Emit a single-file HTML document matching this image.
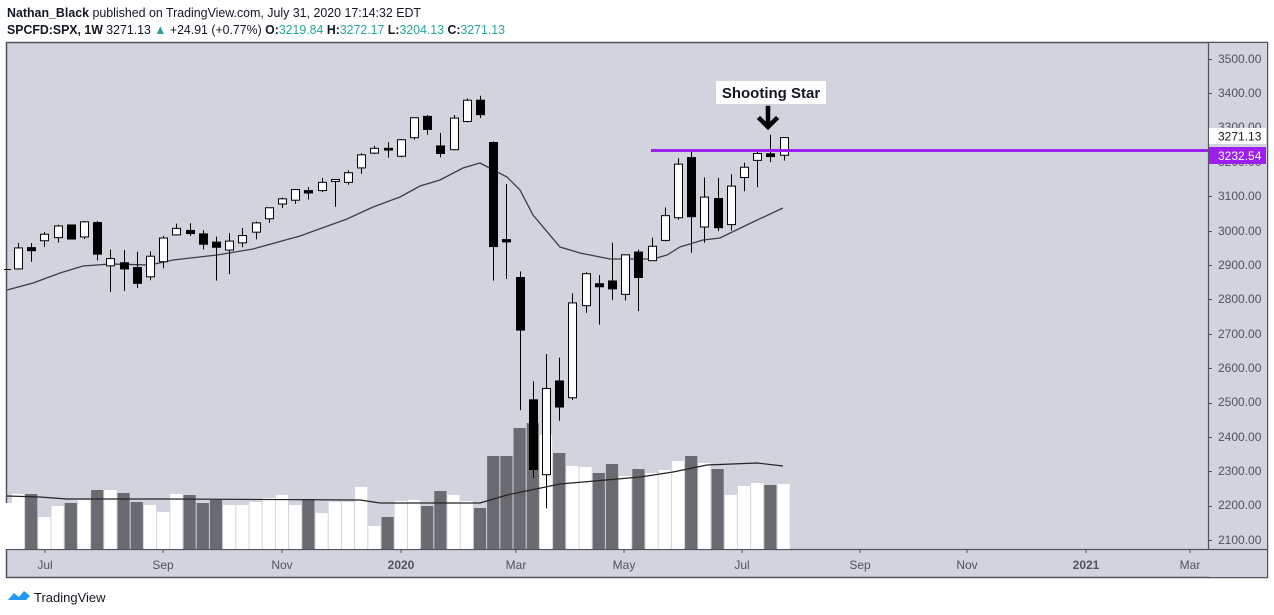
<!DOCTYPE html>
<html><head><meta charset="utf-8"><style>
html,body{margin:0;padding:0;background:#fff;width:1274px;height:615px;overflow:hidden}
svg{display:block;font-family:"Liberation Sans","DejaVu Sans",sans-serif}
</style></head><body>
<svg id="s" width="1274" height="615" viewBox="0 0 1274 615" xmlns="http://www.w3.org/2000/svg">
<text x="7" y="17" font-size="13" fill="#131722" textLength="414" lengthAdjust="spacingAndGlyphs"><tspan font-weight="bold">Nathan_Black</tspan> published on TradingView.com, July 31, 2020 17:14:32 EDT</text>
<text x="7" y="34" font-size="13" fill="#131722" textLength="498" lengthAdjust="spacingAndGlyphs"><tspan font-weight="bold">SPCFD:SPX, 1W</tspan> 3271.13 <tspan fill="#26a69a">▲</tspan> +24.91 (+0.77%) <tspan font-weight="bold">O:</tspan><tspan fill="#26a69a">3219.84</tspan> <tspan font-weight="bold">H:</tspan><tspan fill="#26a69a">3272.17</tspan> <tspan font-weight="bold">L:</tspan><tspan fill="#26a69a">3204.13</tspan> <tspan font-weight="bold">C:</tspan><tspan fill="#26a69a">3271.13</tspan></text>
<rect x="6.5" y="42.5" width="1261" height="535" fill="#d1d4dc" stroke="#50535e" stroke-width="1.5"/>
<rect x="1209" y="43" width="58" height="534" fill="#d1d4dc"/>
<line x1="1208.5" y1="42" x2="1208.5" y2="549" stroke="#50535e" stroke-width="1.2"/>
<line x1="6" y1="549.5" x2="1268" y2="549.5" stroke="#50535e" stroke-width="1.2"/>
<g id="vol"></g>
<polyline fill="none" stroke="#222" stroke-width="1.2" points="7,496 40,497 67,499 167,499 360,500 380,503 420,503 480,503 507,495 560,484 640,477 673,472 707,465 757,463 783,466"/>
<polyline fill="none" stroke="#3a3d48" stroke-width="1.3" points="7,290 33,283 60,273 83,266 110,264 150,265 173,260 217,255 253,249 300,236 347,219 373,207 400,197 420,186 440,180 463,168 480,163 507,177 520,190 533,215 560,247 580,253 610,259 653,259 667,255 680,247 703,240 720,238 753,222 783,208"/>
<g id="cdl"></g>
<line x1="651" y1="150.5" x2="1208" y2="150.5" stroke="#9c1ff0" stroke-width="3"/>
<rect x="716" y="81" width="110" height="23" fill="#fff"/>
<text x="771" y="98" font-size="15" font-weight="bold" text-anchor="middle" fill="#131722">Shooting Star</text>
<path d="M768 108 V126 M760 119 L768 127 L776 119" stroke="#000" stroke-width="4.5" fill="none" stroke-linecap="square"/>
<g font-size="12" fill="#50535e">
<g id="ticks"></g>
<text x="1218" y="63">3500.00</text><text x="1218" y="97">3400.00</text><text x="1218" y="131">3300.00</text><text x="1218" y="166">3200.00</text><text x="1218" y="200">3100.00</text><text x="1218" y="235">3000.00</text><text x="1218" y="269">2900.00</text><text x="1218" y="303">2800.00</text><text x="1218" y="338">2700.00</text><text x="1218" y="372">2600.00</text><text x="1218" y="406">2500.00</text><text x="1218" y="441">2400.00</text><text x="1218" y="475">2300.00</text><text x="1218" y="509">2200.00</text><text x="1218" y="544">2100.00</text>
</g>
<rect x="1209" y="128" width="57" height="16" fill="#fff"/>
<text x="1218" y="140.5" font-size="12" fill="#131722">3271.13</text>
<rect x="1209" y="147" width="57" height="17" fill="#9c1ff0"/>
<text x="1218" y="160" font-size="12" fill="#fff">3232.54</text>
<g font-size="12" fill="#50535e" text-anchor="middle">
<text x="45" y="569">Jul</text><text x="163" y="569">Sep</text><text x="282" y="569">Nov</text><text x="401" y="569" font-weight="bold">2020</text><text x="516" y="569">Mar</text><text x="624" y="569">May</text><text x="742" y="569">Jul</text><text x="860" y="569">Sep</text><text x="967" y="569">Nov</text><text x="1086" y="569" font-weight="bold">2021</text><text x="1190" y="569">Mar</text>
</g>
<g stroke="#50535e"><line x1="45" y1="549" x2="45" y2="553"/><line x1="163" y1="549" x2="163" y2="553"/><line x1="282" y1="549" x2="282" y2="553"/><line x1="401" y1="549" x2="401" y2="553"/><line x1="516" y1="549" x2="516" y2="553"/><line x1="624" y1="549" x2="624" y2="553"/><line x1="742" y1="549" x2="742" y2="553"/><line x1="860" y1="549" x2="860" y2="553"/><line x1="967" y1="549" x2="967" y2="553"/><line x1="1086" y1="549" x2="1086" y2="553"/><line x1="1190" y1="549" x2="1190" y2="553"/></g>
<path d="M8 600 L14 593 L19 597 L24 591 L30 596 L26 600 Z" fill="#2196f3"/>
<text x="34" y="602" font-size="13" fill="#131722">TradingView</text>
</svg>
<script>
var NS="http://www.w3.org/2000/svg";
function el(p,t,a){var e=document.createElementNS(NS,t);for(var k in a)e.setAttribute(k,a[k]);p.appendChild(e);return e;}
function Y(p){return 59+(3500-p)*0.343571;}
var D=[[2889,2964,2887,2950],[2951,2964,2910,2942],[2971,2996,2953,2990],[2980,3018,2966,3014],[3017,3017,2976,2976],[2982,3028,2976,3026],[3024,3029,2914,2932],[2898,2945,2822,2919],[2907,2944,2825,2889],[2893,2939,2834,2847],[2866,2940,2856,2926],[2910,2985,2891,2979],[2988,3021,2988,3007],[3001,3022,2985,2992],[2991,3002,2946,2961],[2967,2983,2855,2952],[2944,2993,2874,2970],[2965,3008,2952,2986],[2996,3027,2975,3023],[3035,3067,3023,3067],[3078,3097,3066,3093],[3089,3121,3078,3120],[3117,3127,3091,3110],[3117,3154,3113,3141],[3146,3148,3070,3147],[3141,3176,3134,3169],[3183,3226,3166,3221],[3226,3247,3223,3240],[3240,3258,3213,3235],[3217,3267,3214,3265],[3271,3329,3265,3329],[3333,3337,3280,3295],[3247,3285,3214,3225],[3236,3337,3234,3328],[3318,3385,3315,3380],[3380,3393,3328,3338],[3257,3260,2855,2954],[2972,3136,2860,2970],[2864,2882,2478,2711],[2508,2562,2281,2305],[2290,2641,2192,2541],[2563,2631,2447,2487],[2514,2818,2508,2790],[2782,2879,2761,2875],[2846,2871,2727,2837],[2854,2965,2798,2831],[2815,2930,2797,2930],[2938,2945,2766,2864],[2913,2980,2913,2955],[2972,3068,2969,3044],[3038,3211,3032,3194],[3213,3233,2936,3041],[3011,3155,2965,3098],[3094,3154,2999,3009],[3018,3165,3001,3130],[3155,3198,3115,3185],[3205,3238,3127,3225],[3224,3280,3200,3216],[3219.84,3272.17,3204.13,3271.13]];
var V=[494,494,517,506,503,500,490,490,493,502,505,512,494,495,503,500,505,505,502,498,495,505,499,513,502,502,487,526,517,501,500,506,491,495,501,508,456,456,428,423,435,453,466,467,473,464,476,469,473,470,461,456,463,469,495,486,483,485,484];
var VC="WDWWDWDWDDWWWDDDWWWWWWDWWWWWDWWDDWWDDDDDWDWWDDWDWWWDWDWWWDW";
var vg=document.getElementById("vol"),cg=document.getElementById("cdl");
el(vg,"rect",{x:1,y:503,width:11,height:46,fill:"#fff"});
for(var k=0;k<V.length;k++){var x=18+13.2*k;el(vg,"rect",{x:(x-6.1).toFixed(1),y:V[k],width:12.2,height:549-V[k],fill:VC[k]=="D"?"#6a6b70":"#ffffff"});}
el(cg,"line",{x1:4,y1:269.5,x2:11,y2:269.5,stroke:"#000"});
for(var k=0;k<D.length;k++){var d=D[k],x=Math.round(18+13.2*k)+0.5;var o=Y(d[0]),h=Y(d[1]),l=Y(d[2]),c=Y(d[3]);
el(cg,"line",{x1:x,y1:h,x2:x,y2:l,stroke:"#000","stroke-width":1});
var t=Math.min(o,c),b=Math.max(o,c);if(b-t<1.5){t-=0.8;b+=0.8;}
var up=d[3]>=d[0];
el(cg,"rect",{x:x-4,y:t,width:8,height:b-t,fill:up?"#fff":"#000",stroke:"#000","stroke-width":1});}
var tg=document.getElementById("ticks");
for(var p=2100;p<=3500;p+=100){var y=Math.round(Y(p))+0.5;el(tg,"line",{x1:1208,y1:y,x2:1212,y2:y,stroke:"#50535e"});}
</script>
</body></html>
